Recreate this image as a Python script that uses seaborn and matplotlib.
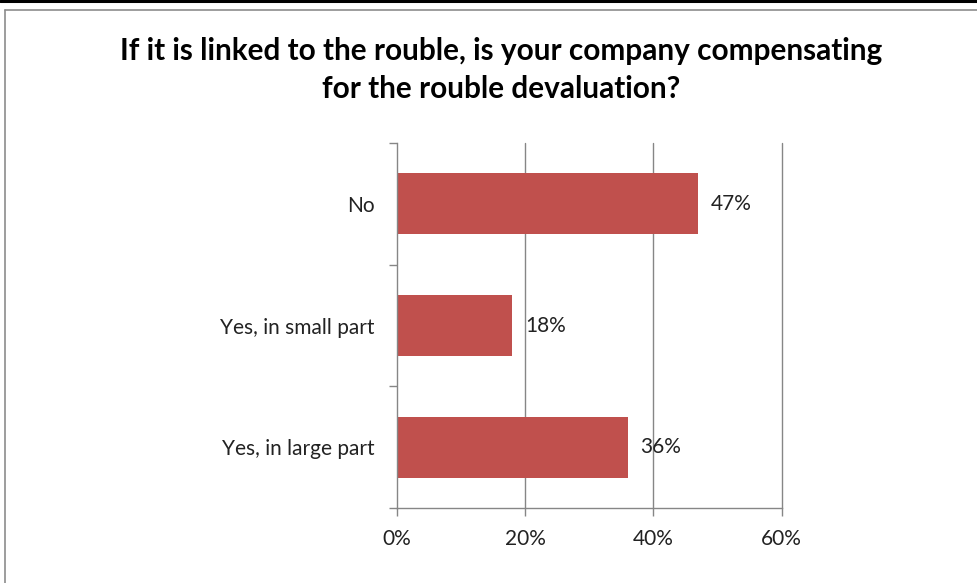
import matplotlib
matplotlib.use("Agg")
import matplotlib.pyplot as plt
from matplotlib.lines import Line2D
import seaborn as sns
import pandas as pd

categories = ["No", "Yes, in small part", "Yes, in large part"]
values = [47, 18, 36]
value_labels = ["47%", "18%", "36%"]
x_ticks = [0, 20, 40, 60]
x_tick_labels = ["0%", "20%", "40%", "60%"]
title = "If it is linked to the rouble, is your company compensating\nfor the rouble devaluation?"

sns.set_theme(style="white")
plt.rcParams["font.family"] = ["Lato", "DejaVu Sans"]

W, H = 977, 583
fig = plt.figure(figsize=(W / 100, H / 100), dpi=100)
fig.patch.set_facecolor("white")

# outer frame lines
fig.add_artist(Line2D([0, 1], [1 - 1 / H, 1 - 1 / H], transform=fig.transFigure,
                      color="black", lw=2.2))
fig.add_artist(Line2D([5 / W, 1], [1 - 10 / H, 1 - 10 / H], transform=fig.transFigure,
                      color="#8c8c8c", lw=1.2))
fig.add_artist(Line2D([5 / W, 5 / W], [0, 1 - 10 / H], transform=fig.transFigure,
                      color="#8c8c8c", lw=1.2))

left, right, top, bottom = 397, 781.5, 143, 508
ax = fig.add_axes([left / W, 1 - bottom / H, (right - left) / W, (bottom - top) / H])

df = pd.DataFrame({"category": categories, "value": values})
sns.barplot(data=df, x="value", y="category", orient="h", color="#C0504D",
            saturation=1, width=0.5, ax=ax, edgecolor="none")

ax.set_xlim(0, 60)
ax.set_ylim(2.5, -0.5)
ax.set_xticks(x_ticks)
ax.set_xticklabels(x_tick_labels)
ax.set_xlabel("")
ax.set_ylabel("")

grid_c = "#868686"
for xv in x_ticks[1:]:
    ax.axvline(xv, color=grid_c, lw=1.0, zorder=0, clip_on=False)

for s in ["top", "right"]:
    ax.spines[s].set_visible(False)
for s in ["left", "bottom"]:
    ax.spines[s].set_color(grid_c)
    ax.spines[s].set_linewidth(1.0)

# category boundary ticks on the y axis
ax.set_yticks([0, 1, 2])
ax.set_yticklabels(categories)
ax.set_yticks([-0.5, 0.5, 1.5, 2.5], minor=True)
ax.tick_params(axis="y", which="major", length=0, pad=16, labelsize=15, labelcolor="#222222")
ax.tick_params(axis="y", which="minor", left=True, length=6, width=1.0, color=grid_c, direction="out")
ax.tick_params(axis="x", which="major", bottom=True, length=6, width=1.0, color=grid_c,
               direction="out", pad=9, labelsize=15, labelcolor="#222222")

for i, (v, lab) in enumerate(zip(values, value_labels)):
    ax.annotate(lab, xy=(v, i), xytext=(9, 0), textcoords="offset points",
                ha="left", va="center", fontsize=15, color="#222222")

fig.text(0.5 * (120 + 882) / W, 1 - 70 / H, title, ha="center", va="center",
         fontsize=21.4, fontweight="bold", color="black", linespacing=1.45)

fig.savefig("out.png", dpi=100)
